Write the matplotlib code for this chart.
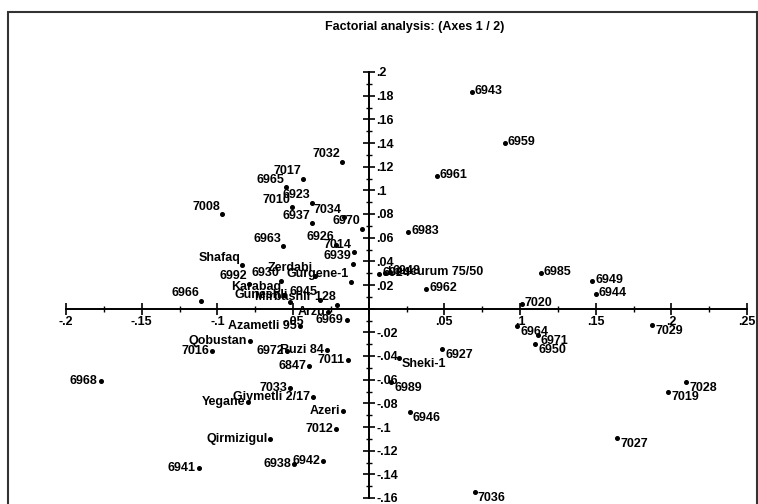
import matplotlib.pyplot as plt
from matplotlib.patches import Rectangle
from matplotlib.ticker import MultipleLocator, FuncFormatter

# factor scores (axis 1, axis 2)
names = ['6943', '6959', '6961', '6983', '6962', '6985', '7020', '6949', '6944',
         '6924', '6948', 'Leucurum 75/50',
         '7032', '7017', '6965', '6923', '7010', '7008', '6937', '7034', '6970',
         '6963', '6926', '7014', '6939', 'Gurgene-1', 'Zerdabi', '6930', '6992',
         'Shafaq', '6966', 'Karabag', 'Guneshli', '6945', 'Mirbashir 128',
         'Arzu', '6969', 'Azametli 95', 'Qobustan', '7016', '6972', 'Ruzi 84',
         '7011', '6847', '6968', '7033', 'Giymetli 2/17', 'Yegane', 'Azeri',
         '7012', 'Qirmizigul', '6942', '6938', '6941',
         '6964', '6971', '6950', '6927', 'Sheki-1', '6989', '6946', '7036',
         '7027', '7019', '7028', '7029']
f1 = [0.068, 0.090, 0.045, 0.026, 0.038, 0.1137, 0.1013, 0.1476, 0.150,
      0.007, 0.014, 0.011,
      -0.0176, -0.0434, -0.0544, -0.0375, -0.0504, -0.0967, -0.0372, -0.0166, -0.0042,
      -0.0566, -0.0214, -0.0099, -0.0101, -0.0119, -0.0357, -0.0577, -0.0793,
      -0.0835, -0.1106, -0.0562, -0.0522, -0.0324, -0.0207,
      -0.0266, -0.0145, -0.0456, -0.0787, -0.1036, -0.0537, -0.0273,
      -0.0137, -0.0394, -0.1771, -0.0518, -0.0368, -0.0798, -0.017,
      -0.0213, -0.065, -0.0302, -0.0494, -0.1122,
      0.0983, 0.1117, 0.1102, 0.0487, 0.0201, 0.015, 0.0271, 0.070,
      0.1644, 0.1978, 0.21, 0.1875]
f2 = [0.183, 0.140, 0.1125, 0.065, 0.017, 0.030, 0.004, 0.023, 0.0127,
      0.0295, 0.031, 0.030,
      0.1241, 0.1095, 0.1024, 0.0897, 0.0855, 0.0796, 0.0723, 0.0771, 0.0673,
      0.0526, 0.0541, 0.0475, 0.0377, 0.0225, 0.0278, 0.0236, 0.0208,
      0.0365, 0.0068, 0.0118, 0.0054, 0.0076, 0.0034,
      -0.0025, -0.0093, -0.0143, -0.0276, -0.0354, -0.036, -0.0346,
      -0.0436, -0.0481, -0.0608, -0.0669, -0.0748, -0.0791, -0.0867,
      -0.1013, -0.1105, -0.1289, -0.131, -0.1344,
      -0.0149, -0.0219, -0.0298, -0.0338, -0.0416, -0.0622, -0.0872, -0.1547,
      -0.1097, -0.070, -0.0622, -0.0135]

plt.rcParams['font.family'] = 'Liberation Sans'
plt.rcParams['font.weight'] = 'bold'

W, H = 758, 504
fig = plt.figure(figsize=(W / 100, H / 100), dpi=100)
ax = fig.add_axes([66 / W, 6 / H, (747 - 66) / W, (498 - 72) / H])
ax.set_xlim(-0.2, 0.25)
ax.set_ylim(-0.16, 0.2)

ax.plot(f1, f2, 'o', color='black', ms=2.6, clip_on=False)

for n, x, y in zip(names, f1, f2):
    if x < 0 and y > 0:
        off, ha = (-2, 7.6), 'right'
    elif x < 0:
        off, ha = (-3, 0), 'right'
    elif y > 0:
        off, ha = (3, 1), 'left'
    else:
        off, ha = (3, -6), 'left'
    ax.annotate(n, (x, y), xytext=off, textcoords='offset pixels',
                ha=ha, va='center', fontsize=9, fontweight='bold',
                annotation_clip=False)

for s in ['top', 'left']:
    ax.spines[s].set_visible(False)
ax.spines['bottom'].set_position('zero')
ax.spines['right'].set_position('zero')
ax.spines['bottom'].set_linewidth(1.4)
ax.spines['right'].set_linewidth(1.4)
ax.yaxis.tick_right()

ax.xaxis.set_major_locator(MultipleLocator(0.05))
ax.xaxis.set_minor_locator(MultipleLocator(0.025))
ax.yaxis.set_major_locator(MultipleLocator(0.02))
ax.yaxis.set_minor_locator(MultipleLocator(0.01))


def fmt(v, pos):
    if abs(v) < 1e-9:
        return ''
    return f'{v:g}'.replace('0.', '.')


ax.xaxis.set_major_formatter(FuncFormatter(fmt))
ax.yaxis.set_major_formatter(FuncFormatter(fmt))
ax.tick_params(which='major', direction='inout', length=9, width=1.2,
               labelsize=9, pad=1)
ax.tick_params(which='minor', direction='inout', length=5, width=1)
ax.tick_params(axis='y', which='both', right=True, left=False)

fig.add_artist(Rectangle((8 / W, -0.1), 749 / W, 1.076, transform=fig.transFigure,
                         fill=False, edgecolor='#333333', lw=1.5))
fig.text(415 / W, 1 - 27 / H, 'Factorial analysis: (Axes 1 / 2)', ha='center',
         va='center', fontsize=9, fontweight='bold')

fig.savefig('out.png', dpi=100)
